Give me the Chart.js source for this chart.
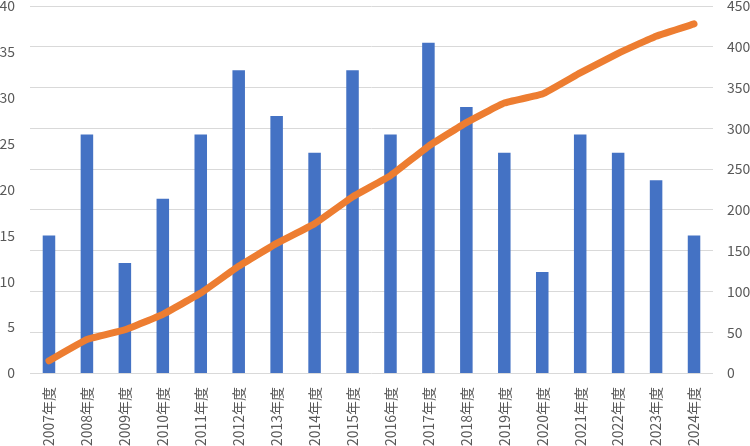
<!DOCTYPE html>
<html>
<head>
<meta charset="utf-8">
<script src="https://cdn.jsdelivr.net/npm/chart.js@4.4.0/dist/chart.umd.min.js"></script>
<style>
  html, body { margin: 0; padding: 0; background: #fff; }
  #wrap { width: 750px; height: 446px; }
</style>
</head>
<body>
<div id="wrap"><canvas id="chart" width="750" height="446"></canvas></div>
<script>
// Fiscal years (x axis)
const years = ['2007年度', '2008年度', '2009年度', '2010年度', '2011年度', '2012年度',
    '2013年度', '2014年度', '2015年度', '2016年度', '2017年度', '2018年度',
    '2019年度', '2020年度', '2021年度', '2022年度', '2023年度', '2024年度'];

// Bars, left axis
const yearly = [15, 26, 12, 19, 26, 33, 28, 24, 33, 26, 36, 29, 24, 11, 26, 24, 21, 15];

// Line, right axis
const total = [15, 41, 53, 72, 98, 131, 159, 183, 216, 242, 278, 307, 331, 342, 368, 392, 413, 428];

const leftTicks = [0, 5, 10, 15, 20, 25, 30, 35, 40];
const rightTicks = [0, 50, 100, 150, 200, 250, 300, 350, 400, 450];

const textColor = '#595959';
const tickFont = { family: "'Noto Sans CJK JP', 'Noto Sans', sans-serif", size: 14 };

// y axes: fixed width, no extra label overflow padding
function fixWidth(w) {
    return function(axis) {
        axis.width = w;
        axis.paddingTop = 0;
        axis.paddingBottom = 0;
    };
}

const ctx = document.getElementById('chart').getContext('2d');
new Chart(ctx, {
    data: {
        labels: years,
        datasets: [{
            type: 'line',
            data: total,
            yAxisID: 'y1',
            borderColor: '#ED7D31',
            borderWidth: 7,
            borderCapStyle: 'round',
            borderJoinStyle: 'round',
            tension: 0.1,
            pointRadius: 0,
            fill: false
        }, {
            type: 'bar',
            data: yearly,
            yAxisID: 'y',
            backgroundColor: '#4472C4',
            barPercentage: 0.33,
            categoryPercentage: 1.0
        }]
    },
    options: {
        responsive: false,
        animation: false,
        layout: { padding: { top: 6, right: 0, bottom: 0, left: 0 } },
        plugins: {
            legend: { display: false },
            tooltip: { enabled: false }
        },
        scales: {
            x: {
                offset: true,
                grid: { display: false, drawTicks: false },
                border: { display: false },
                ticks: {
                    color: textColor,
                    font: tickFont,
                    minRotation: 90,
                    maxRotation: 90,
                    padding: 14,
                    autoSkip: false
                },
                afterFit: function(axis) {
                    axis.height = 73;
                    axis.paddingLeft = 0;
                    axis.paddingRight = 0;
                }
            },
            y: {
                position: 'left',
                min: 0,
                max: 40,
                grid: { display: false, drawTicks: false },
                border: { display: false },
                afterBuildTicks: function(axis) {
                    axis.ticks = leftTicks.map(v => ({ value: v }));
                },
                ticks: { color: textColor, font: tickFont, padding: 15 },
                afterFit: fixWidth(30)
            },
            y1: {
                position: 'right',
                min: 0,
                max: 450,
                grid: { color: '#D9D9D9', lineWidth: 1, drawTicks: false },
                border: { display: false },
                afterBuildTicks: function(axis) {
                    axis.ticks = rightTicks.map(v => ({ value: v }));
                },
                ticks: { color: textColor, font: tickFont, padding: 14 },
                afterFit: fixWidth(37)
            }
        }
    }
});
</script>
</body>
</html>
